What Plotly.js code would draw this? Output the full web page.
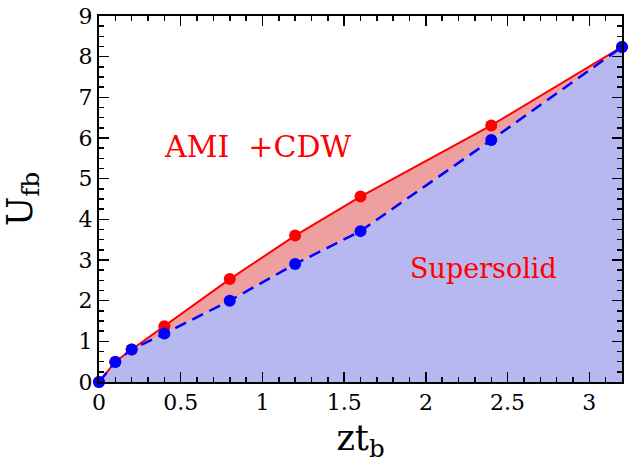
<!DOCTYPE html>
<html>
<head>
<meta charset="utf-8">
<script src="https://cdn.plot.ly/plotly-3.0.1.min.js"></script>
<style>html,body{margin:0;padding:0;background:#fff;}#plot{width:636px;height:463px;}</style>
</head>
<body>
<div id="plot"></div>
<script>
const ztb = [0, 0.1, 0.2, 0.4, 0.8, 1.2, 1.6, 2.4, 3.2];
const upperU = [0, 0.5, 0.8, 1.37, 2.53, 3.6, 4.56, 6.31, 8.24];
const lowerU = [0, 0.49, 0.8, 1.19, 2.0, 2.9, 3.71, 5.95, 8.24];
const labelAMI = 'AMI\u00a0\u00a0+CDW';
const labelSS = 'Supersolid';

const SERIF = 'DejaVu Serif';

const traces = [
  {x: ztb, y: lowerU, mode: 'lines', fill: 'tozeroy', fillcolor: '#b8b8f0',
   line: {width: 0, color: 'rgba(0,0,0,0)'}, hoverinfo: 'skip', showlegend: false},
  {x: ztb, y: upperU, mode: 'lines', fill: 'tonexty', fillcolor: '#eea0a0',
   line: {width: 0, color: 'rgba(0,0,0,0)'}, hoverinfo: 'skip', showlegend: false},
  {x: ztb, y: upperU, mode: 'lines', line: {color: '#ff0000', width: 2}, showlegend: false},
  {x: ztb, y: lowerU, mode: 'lines', line: {color: '#0000ff', width: 2.5, dash: '12px,7px'}, showlegend: false},
  {x: ztb, y: upperU, mode: 'markers', marker: {color: '#ff0000', size: 12}, cliponaxis: false, showlegend: false},
  {x: ztb, y: lowerU, mode: 'markers', marker: {color: '#0000ff', size: 12}, cliponaxis: false, showlegend: false}
];

const axisCommon = {
  showgrid: false, zeroline: false, showline: true, linecolor: '#000', linewidth: 2,
  mirror: 'ticks', ticks: 'inside', ticklen: 10, tickwidth: 1.5, tickcolor: '#000',
  tickfont: {family: SERIF, size: 22, color: '#000'}
};

const layout = {
  width: 636, height: 463,
  margin: {l: 99, r: 14, t: 16, b: 81},
  paper_bgcolor: '#fff', plot_bgcolor: '#fff',
  font: {family: SERIF},
  xaxis: Object.assign({}, axisCommon, {
    range: [0, 3.2], tick0: 0, dtick: 0.5,
    minor: {dtick: 0.1, ticks: 'inside', ticklen: 5, tickwidth: 1.5, tickcolor: '#000', showgrid: false},
    title: {text: 'zt<sub>b</sub>', font: {family: SERIF, size: 35, color: '#000'}}
  }),
  yaxis: Object.assign({}, axisCommon, {
    range: [0, 9], tick0: 0, dtick: 1,
    minor: {dtick: 0.25, ticks: 'inside', ticklen: 5, tickwidth: 1.5, tickcolor: '#000', showgrid: false},
    title: {text: 'U<sub>fb</sub>', font: {family: SERIF, size: 35, color: '#000'}}
  }),
  annotations: [
    {x: 0.97, y: 5.78, xref: 'x', yref: 'y', text: labelAMI, showarrow: false,
     font: {family: SERIF, size: 30, color: '#ff0000'}},
    {x: 2.35, y: 2.8, xref: 'x', yref: 'y', text: labelSS, showarrow: false,
     font: {family: SERIF, size: 27, color: '#ff0000'}}
  ]
};

Plotly.newPlot('plot', traces, layout, {displayModeBar: false, staticPlot: true});
</script>
</body>
</html>
